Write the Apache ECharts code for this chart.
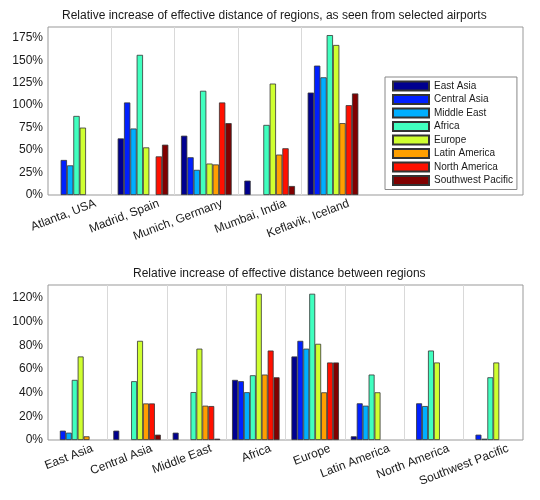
<!DOCTYPE html>
<html><head><meta charset="utf-8">
<script src="https://cdn.jsdelivr.net/npm/echarts@6/dist/echarts.min.js"></script>
<style>html,body{margin:0;padding:0;background:#fff}#c{width:540px;height:500px}</style>
</head><body><div id="c"></div>
<script>
// ---- data ----
const regionNames = ['East Asia','Central Asia','Middle East','Africa','Europe','Latin America','North America','Southwest Pacific'];
const airports = ['Atlanta, USA','Madrid, Spain','Munich, Germany','Mumbai, India','Keflavik, Iceland'];
const airportTicks = [0,25,50,75,100,125,150,175];
const regionTicks = [0,20,40,60,80,100,120];

// top chart: relative increase (%) per airport, one array per destination region
const airEastAsia    = [null, 63, 66, 16, 114];
const airCentralAsia = [39, 103, 42, null, 144];
const airMiddleEast  = [33, 74, 28, null, 131];
const airAfrica      = [88, 156, 116, 78, 178];
const airEurope      = [75, 53, 35, 124, 167];
const airLatinAm     = [null, null, 34, 45, 80];
const airNorthAm     = [null, 43, 103, 52, 100];
const airSWPacific   = [null, 56, 80, 10, 113];

// bottom chart: relative increase (%) between regions
const regEastAsia    = [null, 7.9, 6.2, 50.8, 70.6, 3.1, null, null];
const regCentralAsia = [7.9, null, null, 49.7, 83.8, 31.0, 31.0, 4.5];
const regMiddleEast  = [6.2, null, null, 40.4, 77.2, 29.0, 28.7, 1.1];
const regAfrica      = [50.8, 49.7, 40.5, 54.7, 123.6, 55.3, 75.6, 53.0];
const regEurope      = [70.6, 83.8, 77.2, 123.6, 81.3, 40.3, 65.5, 65.5];
const regLatinAm     = [3.1, 30.9, 29.0, 55.3, 40.3, null, null, null];
const regNorthAm     = [null, 30.9, 28.7, 75.6, 65.5, null, null, null];
const regSWPacific   = [null, 4.5, 1.1, 53.0, 65.5, null, null, null];

// ---- styling ----
const colors = ['#00008F','#0020FF','#00AFFF','#40FFBF','#CFFF30','#FF9F00','#FF1000','#800000'];
const FONT = '"Liberation Sans", Arial, Helvetica, sans-serif';
const TXT = '#1a1a1a';
const topData = [airEastAsia, airCentralAsia, airMiddleEast, airAfrica, airEurope, airLatinAm, airNorthAm, airSWPacific];
const botData = [regEastAsia, regCentralAsia, regMiddleEast, regAfrica, regEurope, regLatinAm, regNorthAm, regSWPacific];

const SHIFT = 0.25;
const TOPMAX = 8, BOTMAX = 8.5;

function catLabel(names){
  return function(v){
    const r = Math.round(v);
    if (Math.abs(v - r) < 1e-6 && r >= 1 && r <= names.length) return names[r-1];
    return '';
  };
}
function dividers(n){
  const d = [];
  for (let i = 1; i < n; i++) d.push({xAxis: i + 0.5});
  return d;
}

const series = [];
function addSeries(dataSets, xi, yi, nCats){
  series.push({
    type: 'line', xAxisIndex: xi, yAxisIndex: yi, data: [], silent: true, z: 1,
    markLine: {
      silent: true, symbol: ['none','none'], label: {show: false},
      lineStyle: {color: '#d9d9d9', type: 'solid', width: 1},
      emphasis: {disabled: true},
      data: dividers(nCats)
    }
  });
  dataSets.forEach((arr, k) => {
    series.push({
      type: 'bar', name: regionNames[k], xAxisIndex: xi, yAxisIndex: yi,
      data: arr.map((v, i) => [i + 1, v == null ? '-' : v]),
      itemStyle: {color: colors[k], borderColor: '#333', borderWidth: 0.8},
      barGap: '0%', barCategoryGap: '20%', z: 2,
      emphasis: {disabled: true}, silent: true
    });
  });
}
addSeries(topData, 0, 0, airports.length);
addSeries(botData, 2, 1, regionNames.length);

const hiddenX = {
  type: 'value', axisLine: {show: false}, axisTick: {show: false},
  axisLabel: {show: false}, splitLine: {show: false}
};
function labelX(grid, min, max, names){
  return {
    type: 'value', gridIndex: grid, min: min - SHIFT, max: max - SHIFT, interval: 0.25,
    position: 'bottom',
    axisLine: {show: false}, axisTick: {show: false}, splitLine: {show: false},
    axisLabel: {rotate: 21, margin: 8, fontSize: 12, color: TXT, fontFamily: FONT,
      formatter: catLabel(names), showMinLabel: true, showMaxLabel: true}
  };
}
function yAx(grid, max, interval, ticks){
  return {
    type: 'value', gridIndex: grid, min: 0, max: max, interval: interval,
    axisLine: {show: false}, axisTick: {show: false}, splitLine: {show: false},
    axisLabel: {fontSize: 12, color: TXT, fontFamily: FONT, margin: 5,
      formatter: v => ticks.includes(v) ? v + '%' : ''}
  };
}

const option = {
  animation: false,
  backgroundColor: '#fff',
  textStyle: {fontFamily: FONT},
  title: [
    {text: 'Relative increase of effective distance of regions, as seen from selected airports',
     left: 57, top: 5, textStyle: {fontSize: 12, fontWeight: 'normal', color: TXT, fontFamily: FONT}},
    {text: 'Relative increase of effective distance between regions',
     left: 128, top: 263, textStyle: {fontSize: 12, fontWeight: 'normal', color: TXT, fontFamily: FONT}}
  ],
  grid: [
    {left: 48, top: 27, width: 475, height: 168, show: true, borderColor: '#999', borderWidth: 1, backgroundColor: 'transparent', containLabel: false},
    {left: 48, top: 285, width: 475, height: 155, show: true, borderColor: '#999', borderWidth: 1, backgroundColor: 'transparent', containLabel: false}
  ],
  xAxis: [
    Object.assign({gridIndex: 0, min: 0.5, max: TOPMAX}, hiddenX),
    labelX(0, 0.5, TOPMAX, airports),
    Object.assign({gridIndex: 1, min: 0.5, max: BOTMAX}, hiddenX),
    labelX(1, 0.5, BOTMAX, regionNames)
  ],
  yAxis: [
    yAx(0, 187, 25, airportTicks),
    yAx(1, 131, 20, regionTicks)
  ],
  legend: {
    orient: 'vertical', left: 385, top: 77,
    data: regionNames, icon: 'rect', itemWidth: 36, itemHeight: 9, itemGap: 1.5,
    padding: [3, 4, 3, 7], borderColor: '#888', borderWidth: 1, backgroundColor: '#fff',
    selectedMode: false,
    textStyle: {fontSize: 10, lineHeight: 12, color: TXT, fontFamily: FONT}
  },
  series: series
};
echarts.init(document.getElementById('c'), null, {renderer: 'canvas'}).setOption(option);
</script>
</body></html>
